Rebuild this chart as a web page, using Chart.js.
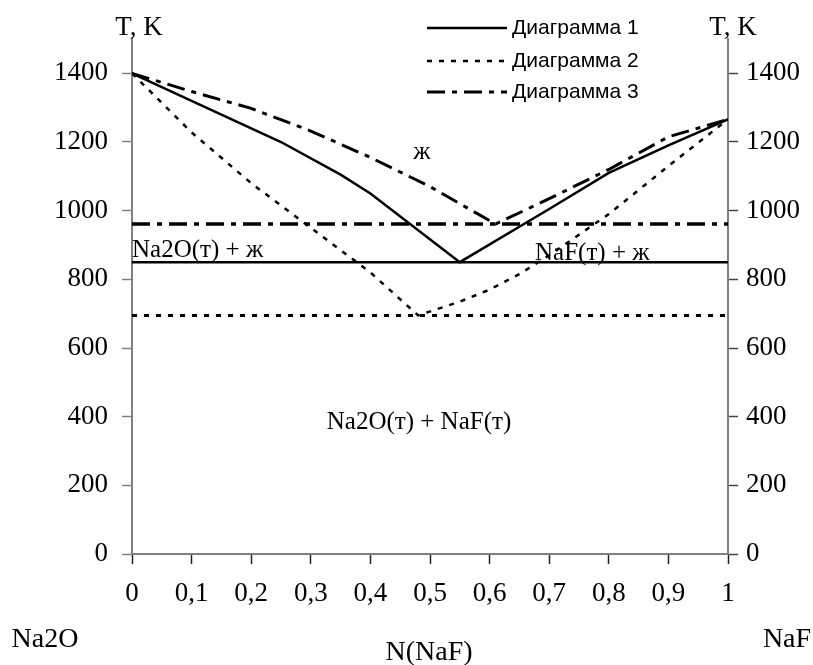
<!DOCTYPE html>
<html>
<head>
<meta charset="utf-8">
<script src="https://cdn.jsdelivr.net/npm/chart.js@4.4.0/dist/chart.umd.min.js"></script>
<style>
  html, body { margin: 0; padding: 0; background: #fff; }
  #wrap { width: 813px; height: 665px; }
</style>
</head>
<body>
<div id="wrap"><canvas id="phaseChart" width="813" height="665"></canvas></div>
<script>
// liquidus curves, N(NaF) vs T
const liq1X = [0, 0.15, 0.25, 0.35, 0.4, 0.55, 0.7, 0.8, 0.9, 1];
const liq1T = [1400, 1280, 1200, 1105, 1050, 850, 1005, 1110, 1190, 1266];

const liq2X = [0, 0.1, 0.2, 0.3, 0.4, 0.48, 0.55, 0.6, 0.65, 0.7, 0.8, 0.9, 1];
const liq2T = [1400, 1228, 1080, 950, 820, 695, 735, 770, 815, 870, 990, 1130, 1266];

const liq3X = [0, 0.1, 0.2, 0.3, 0.4, 0.5, 0.61, 0.7, 0.8, 0.9, 1];
const liq3T = [1400, 1347, 1298, 1232, 1155, 1070, 961, 1035, 1120, 1215, 1266];

// eutectic lines (temperature across whole range)
const eutX = [0, 1];
const eut1T = [850, 850];
const eut2T = [695, 695];
const eut3T = [961, 961];

const yTicks = [0, 200, 400, 600, 800, 1000, 1200, 1400];
const xTicks = [0, 0.1, 0.2, 0.3, 0.4, 0.5, 0.6, 0.7, 0.8, 0.9, 1];

const seriesNames = ['Диаграмма 1', 'Диаграмма 2', 'Диаграмма 3'];
const seriesDash = [[], [5, 7], [18, 7, 5, 7]];
const seriesWidth = [2.5, 2.5, 3];

function pts(xs, ys) {
    return xs.map((x, i) => ({ x: x, y: ys[i] }));
}

function lineSet(label, xs, ys, idx, w) {
    return {
        label: label,
        data: pts(xs, ys),
        showLine: true,
        borderColor: '#000',
        borderWidth: w || seriesWidth[idx],
        borderDash: seriesDash[idx],
        pointRadius: 0,
        fill: false,
        tension: 0
    };
}

const serif = "'Liberation Serif', 'Times New Roman', serif";
const sans = "'Liberation Sans', Arial, sans-serif";

// texts + legend drawn on top
const textPlugin = {
    id: 'texts',
    afterDraw(chart) {
        const ctx = chart.ctx;
        ctx.save();
        ctx.fillStyle = '#000';
        ctx.textBaseline = 'middle';
        ctx.textAlign = 'center';
        ctx.font = '27px ' + serif;
        ctx.fillText('T, K', 139, 28);
        ctx.fillText('T, K', 733, 28);
        ctx.font = '28px ' + serif;
        ctx.fillText('Na2O', 45, 640);
        ctx.fillText('NaF', 787, 640);
        ctx.fillText('N(NaF)', 429, 653);

        ctx.font = '25px ' + serif;
        ctx.fillText('ж', 422, 152);
        ctx.fillText('Na2O(т) + NaF(т)', 419, 422);
        ctx.textAlign = 'left';
        ctx.fillText('Na2O(т) + ж', 132, 250);
        ctx.fillText('NaF(т) + ж', 535, 253);

        // legend
        const rows = [28, 61, 92];
        ctx.font = '21px ' + sans;
        rows.forEach((y, i) => {
            ctx.beginPath();
            ctx.setLineDash(seriesDash[i]);
            ctx.lineWidth = seriesWidth[i];
            ctx.strokeStyle = '#000';
            ctx.moveTo(427, y);
            ctx.lineTo(507, y);
            ctx.stroke();
            ctx.fillText(seriesNames[i], 512, y);
        });
        ctx.restore();
    }
};

const tickFont = { family: serif, size: 27 };

document.addEventListener('DOMContentLoaded', function () {
    const ctx = document.getElementById('phaseChart').getContext('2d');
    new Chart(ctx, {
        type: 'scatter',
        data: {
            datasets: [
                lineSet(seriesNames[0], liq1X, liq1T, 0),
                lineSet(seriesNames[1], liq2X, liq2T, 1),
                lineSet(seriesNames[2], liq3X, liq3T, 2),
                lineSet('eut1', eutX, eut1T, 0, 2.5),
                lineSet('eut2', eutX, eut2T, 1, 3),
                lineSet('eut3', eutX, eut3T, 2, 3.5)
            ]
        },
        options: {
            responsive: false,
            animation: false,
            devicePixelRatio: 1,
            layout: { padding: { top: 39, left: 0, right: 0, bottom: 0 } },
            plugins: {
                legend: { display: false },
                tooltip: { enabled: false }
            },
            scales: {
                x: {
                    type: 'linear',
                    min: 0,
                    max: 1,
                    afterBuildTicks: s => { s.ticks = xTicks.map(v => ({ value: v })); },
                    afterFit: s => { s.height = 111; },
                    border: { color: '#808080', width: 2 },
                    grid: { drawOnChartArea: false, tickLength: 10, tickColor: '#222', tickWidth: 1.5 },
                    ticks: {
                        color: '#000',
                        font: tickFont,
                        padding: 14,
                        maxRotation: 0,
                        autoSkip: false,
                        callback: v => String(Math.round(v * 10) / 10).replace('.', ',')
                    }
                },
                y: {
                    position: 'left',
                    min: 0,
                    max: 1500,
                    afterBuildTicks: s => { s.ticks = yTicks.map(v => ({ value: v })); },
                    afterFit: s => { s.width = 132; },
                    border: { color: '#808080', width: 2 },
                    grid: { drawOnChartArea: false, tickLength: 10, tickColor: '#808080', tickWidth: 1.5 },
                    ticks: { color: '#000', font: tickFont, padding: 14, callback: v => String(v) }
                },
                y2: {
                    position: 'right',
                    min: 0,
                    max: 1500,
                    afterBuildTicks: s => { s.ticks = yTicks.map(v => ({ value: v })); },
                    afterFit: s => { s.width = 85; },
                    border: { color: '#808080', width: 2 },
                    grid: { drawOnChartArea: false, tickLength: 10, tickColor: '#444', tickWidth: 1.5 },
                    ticks: { color: '#000', font: tickFont, padding: 8, callback: v => String(v) }
                }
            }
        },
        plugins: [textPlugin]
    });
});
</script>
</body>
</html>
